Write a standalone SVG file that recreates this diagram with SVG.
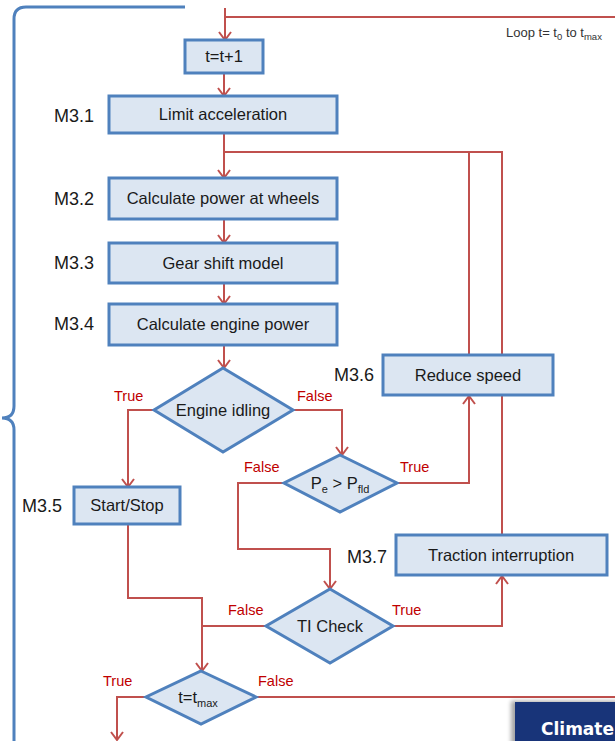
<svg xmlns="http://www.w3.org/2000/svg" width="615" height="741" viewBox="0 0 615 741">
  <style>
    .box { fill: #DCE6F2; stroke: #4F81BD; stroke-width: 3; }
    .dia { fill: #DCE6F2; stroke: #4F81BD; stroke-width: 3; stroke-linejoin: miter; }
    .t { font-family: "Liberation Sans", Arial, sans-serif; font-size: 16.5px; fill: #1a1a1a; text-anchor: middle; }
    .id { font-family: "Liberation Sans", Arial, sans-serif; font-size: 18px; fill: #1a1a1a; }
    .lbl { font-family: "Liberation Sans", Arial, sans-serif; font-size: 14.5px; fill: #C00000; }
    .sub { font-size: 11px; }
    .conn { fill: none; stroke: #C0504D; stroke-width: 2; }
  </style>
  <defs>
    <marker id="arr" viewBox="0 0 10 14" refX="9" refY="7" markerWidth="10" markerHeight="14" markerUnits="userSpaceOnUse" orient="auto">
      <path d="M1,1 L9,7 L1,13" fill="none" stroke="#C0504D" stroke-width="2"/>
    </marker>
    <filter id="shadow" x="-20%" y="-20%" width="140%" height="140%">
      <feGaussianBlur stdDeviation="2"/>
    </filter>
  </defs>

  <rect width="615" height="741" fill="#ffffff"/>

  <!-- loop brace -->
  <path d="M185,7 H26 Q14,7 14,19 V406 Q14,418 2,418 Q14,418 14,430 V741" fill="none" stroke="#4F81BD" stroke-width="3"/>

  <!-- loop caption -->
  <text x="506" y="37" font-family="Liberation Sans, Arial, sans-serif" font-size="13" fill="#333333">Loop  t= t<tspan font-size="9.5" dy="3">0</tspan><tspan dy="-3"> to t</tspan><tspan font-size="9.5" dy="3">max</tspan></text>

  <!-- connectors -->
  <g id="connectors">
    <path class="conn" d="M225,17 H615"/>
    <path class="conn" d="M225,8 V40" marker-end="url(#arr)"/>
    <path class="conn" d="M224,73 V96" marker-end="url(#arr)"/>
    <path class="conn" d="M224,133 V178" marker-end="url(#arr)"/>
    <path class="conn" d="M224,152 H502 V535"/>
    <path class="conn" d="M469,152 V355"/>
    <path class="conn" d="M224,219 V243" marker-end="url(#arr)"/>
    <path class="conn" d="M224,283 V304" marker-end="url(#arr)"/>
    <path class="conn" d="M224,345 V368" marker-end="url(#arr)"/>
    <path class="conn" d="M154,410 H128 V487" marker-end="url(#arr)"/>
    <path class="conn" d="M293,410 H342 V455" marker-end="url(#arr)"/>
    <path class="conn" d="M397,483 H469 V396" marker-end="url(#arr)"/>
    <path class="conn" d="M284,483 H238 V549 H330 V589" marker-end="url(#arr)"/>
    <path class="conn" d="M128,524 V598 H202 V671" marker-end="url(#arr)"/>
    <path class="conn" d="M266,626 H202"/>
    <path class="conn" d="M393,626 H502 V576" marker-end="url(#arr)"/>
    <path class="conn" d="M146,697 H117 V740" marker-end="url(#arr)"/>
    <path class="conn" d="M256,697 H615"/>
  </g>

  <!-- branch labels -->
  <g id="branch-labels">
    <text class="lbl" x="114" y="401">True</text>
    <text class="lbl" x="297" y="401">False</text>
    <text class="lbl" x="244" y="472">False</text>
    <text class="lbl" x="400" y="472">True</text>
    <text class="lbl" x="228" y="615">False</text>
    <text class="lbl" x="392" y="615">True</text>
    <text class="lbl" x="103" y="686">True</text>
    <text class="lbl" x="258" y="686">False</text>
  </g>

  <!-- nodes -->
  <g id="step">
    <rect class="box" x="185" y="40" width="78" height="33"/>
    <text class="t" x="224" y="62">t=t+1</text>
  </g>
  <g id="m3-1">
    <text class="id" x="54" y="122">M3.1</text>
    <rect class="box" x="109" y="96" width="228" height="37"/>
    <text class="t" x="223" y="120">Limit acceleration</text>
  </g>
  <g id="m3-2">
    <text class="id" x="54" y="205">M3.2</text>
    <rect class="box" x="109" y="178" width="228" height="41"/>
    <text class="t" x="223" y="204">Calculate power at wheels</text>
  </g>
  <g id="m3-3">
    <text class="id" x="54" y="269">M3.3</text>
    <rect class="box" x="109" y="243" width="228" height="40"/>
    <text class="t" x="223" y="269">Gear shift model</text>
  </g>
  <g id="m3-4">
    <text class="id" x="54" y="330">M3.4</text>
    <rect class="box" x="109" y="304" width="228" height="41"/>
    <text class="t" x="223" y="330">Calculate engine power</text>
  </g>
  <g id="engine-idling">
    <polygon class="dia" points="223,368 293,410 223,452 154,410"/>
    <text class="t" x="223" y="416">Engine idling</text>
  </g>
  <g id="power-check">
    <polygon class="dia" points="340,455 397,483 340,512 284,483"/>
    <text class="t" x="340" y="489">P<tspan class="sub" dy="4">e</tspan><tspan dy="-4"> &gt; P</tspan><tspan class="sub" dy="4">fld</tspan></text>
  </g>
  <g id="m3-5">
    <text class="id" x="22" y="512">M3.5</text>
    <rect class="box" x="74" y="487" width="106" height="37"/>
    <text class="t" x="127" y="511">Start/Stop</text>
  </g>
  <g id="m3-6">
    <text class="id" x="334" y="381">M3.6</text>
    <rect class="box" x="383" y="355" width="170" height="40"/>
    <text class="t" x="468" y="381">Reduce speed</text>
  </g>
  <g id="m3-7">
    <text class="id" x="347" y="563">M3.7</text>
    <rect class="box" x="396" y="535" width="211" height="40"/>
    <text class="t" x="501" y="561">Traction interruption</text>
  </g>
  <g id="ti-check">
    <polygon class="dia" points="330,589 393,626 330,663 266,626"/>
    <text class="t" x="330" y="632">TI Check</text>
  </g>
  <g id="end-check">
    <polygon class="dia" points="201,671 256,697 201,724 146,697"/>
    <text class="t" x="198" y="703">t=t<tspan class="sub" dy="4">max</tspan></text>
  </g>

  <!-- corner banner -->
  <g id="banner">
    <rect x="511" y="701" width="110" height="45" fill="#000000" opacity="0.35" filter="url(#shadow)"/>
    <rect x="515" y="702" width="100" height="39" fill="#183479"/>
    <text x="541" y="735" font-family="DejaVu Sans, Verdana, sans-serif" font-weight="bold" font-size="17" fill="#ffffff">Climate</text>
  </g>
</svg>
